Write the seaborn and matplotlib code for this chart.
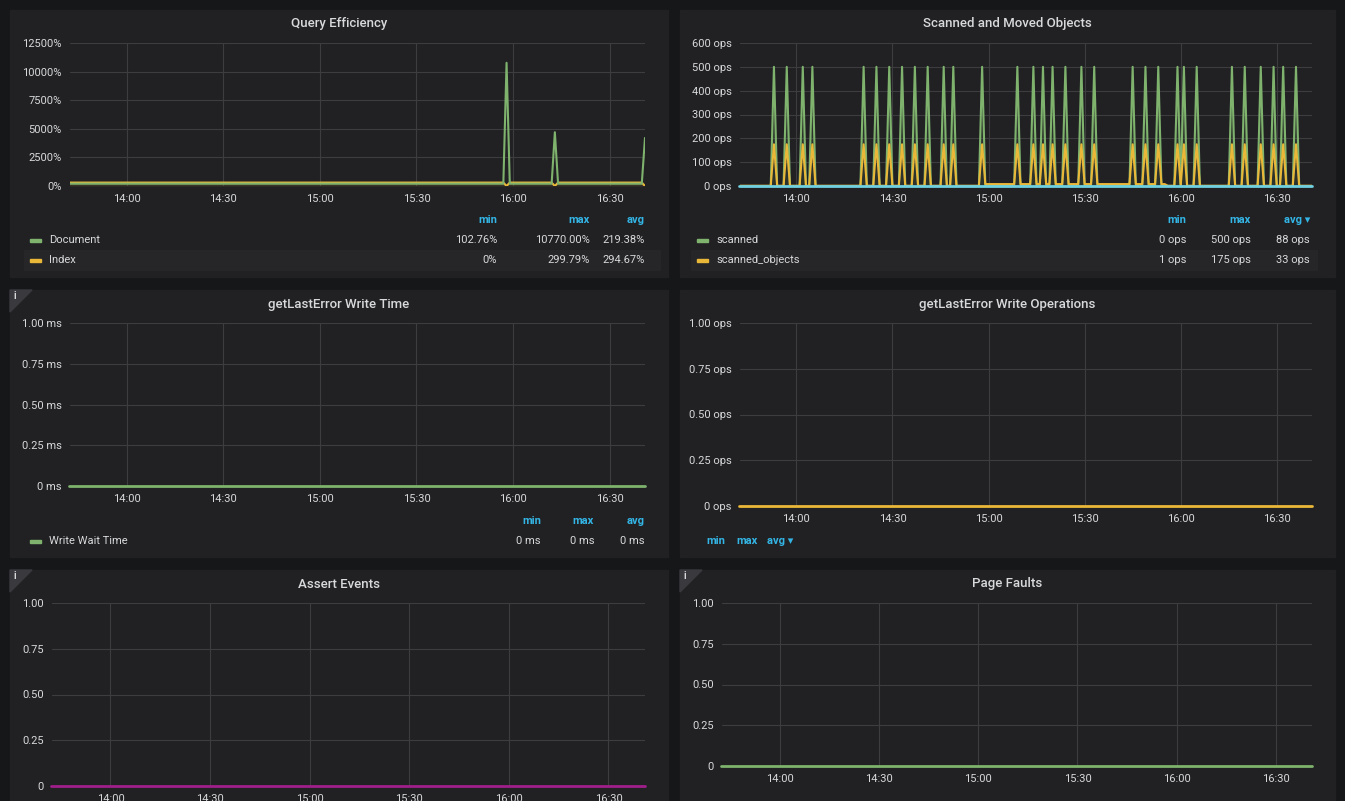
import numpy as np
import pandas as pd
import seaborn as sns
import matplotlib.pyplot as plt
from matplotlib.patches import Rectangle, Polygon

# time axis in minutes relative to 14:00
minutes = np.arange(-18, 162)
tick_pos = [0, 30, 60, 90, 120, 150]
tick_labels = ["14:00", "14:30", "15:00", "15:30", "16:00", "16:30"]

# Query Efficiency
doc_base = 200.0
index_base = 299.0
doc_spike_min = [118, 133, 161]
doc_spike_val = [10770, 4700, 4200]

# Scanned and Moved Objects
scan_spike_min = [-7, -3, 2, 5, 21, 25, 29, 33, 37, 41, 46, 49, 58, 69, 74, 77, 80, 84,
                  89, 93, 105, 109, 113, 119, 121, 125, 136, 140, 145, 149, 152, 156]
scanned_peak = 500
objects_peak = 175
objects_mid_start, objects_mid_end, objects_mid_val = 58, 115, 8

BG = "#161719"
PANEL = "#212124"
TXT = "#d8d9da"
GRID = "#3d3d40"
GREEN = "#7eb26d"
YELLOW = "#eab839"
CYAN = "#6ed0e0"
PURPLE = "#a01e8c"
BLUE = "#33b5e5"

sns.set_style("dark")
plt.rcParams['font.family'] = ['Roboto', 'DejaVu Sans']

W, H = 1345, 801
fig = plt.figure(figsize=(W / 100, H / 100), dpi=100, facecolor=BG)


def fx(x):
    return x / W


def fy(y):
    return 1 - y / H


def panel(x0, y0, x1, y1, title, info=False):
    fig.patches.append(Rectangle((fx(x0), fy(y1)), fx(x1 - x0), (y1 - y0) / H,
                                 transform=fig.transFigure, color=PANEL, zorder=-10))
    fig.text(fx((x0 + x1) / 2), fy(y0 + 14), title, color=TXT, fontsize=9.5,
             ha="center", va="center", fontweight="medium")
    if info:
        fig.patches.append(Polygon([(fx(x0), fy(y0)), (fx(x0 + 22), fy(y0)), (fx(x0), fy(y0 + 22))],
                                   closed=True, transform=fig.transFigure, color="#3a3a3e", zorder=-5))
        fig.text(fx(x0 + 5), fy(y0 + 6), "i", color=TXT, fontsize=7, fontweight="bold",
                 ha="center", va="center")


def make_axes(x0, y0, x1, y1, ymax, yticks, ylabels):
    ax = fig.add_axes([fx(x0), fy(y1), fx(x1 - x0), (y1 - y0) / H])
    ax.set_facecolor("none")
    ax.set_xlim(minutes[0] + 0.4, minutes[-1])
    ax.set_ylim(0, ymax)
    ax.set_yticks(yticks)
    ax.set_yticklabels(ylabels)
    ax.set_xticks(tick_pos)
    ax.set_xticklabels(tick_labels)
    ax.grid(True, color=GRID, linewidth=0.8)
    ax.tick_params(colors=TXT, labelsize=8, length=0, pad=6)
    for s in ax.spines.values():
        s.set_visible(False)
    return ax


def finish(ax):
    ax.set_xlabel("")
    ax.set_ylabel("")
    ax.set_xlim(minutes[0] + 0.4, minutes[-1])


def legend_table(x_name, x_cols, y_head, rows, row_w, heads=("min", "max", "avg")):
    for xc, h in zip(x_cols, heads):
        fig.text(fx(xc), fy(y_head), h, color=BLUE, fontsize=8, fontweight="bold",
                 ha="right", va="center")
    for i, (name, color, vals) in enumerate(rows):
        yy = y_head + 20 + i * 20
        if i % 2 == 1:
            fig.patches.append(Rectangle((fx(x_name - 6), fy(yy + 10)), fx(row_w), 20 / H,
                                         transform=fig.transFigure, color="#262629", zorder=-5))
        fig.patches.append(Rectangle((fx(x_name), fy(yy + 1.5)), fx(11), 3 / H,
                                     transform=fig.transFigure, color=color, zorder=2))
        fig.text(fx(x_name + 19), fy(yy), name, color=TXT, fontsize=8, va="center")
        for xc, v in zip(x_cols, vals):
            fig.text(fx(xc), fy(yy), v, color=TXT, fontsize=8, ha="right", va="center")


# ---------- Query Efficiency ----------
panel(10, 10, 668, 277, "Query Efficiency")
doc = np.full(len(minutes), doc_base)
idx = np.full(len(minutes), index_base)
for m, v in zip(doc_spike_min, doc_spike_val):
    doc[minutes == m] = v
    idx[minutes == m] = 0
df1 = pd.DataFrame({"t": minutes, "Document": doc, "Index": idx})
ax = make_axes(70, 43, 645, 186, 12500, [0, 2500, 5000, 7500, 10000, 12500],
               ["0%", "2500%", "5000%", "7500%", "10000%", "12500%"])
ax.fill_between(minutes, idx, color=YELLOW, alpha=0.12, lw=0)
sns.lineplot(data=df1, x="t", y="Index", color=YELLOW, ax=ax, lw=1.5)
sns.lineplot(data=df1, x="t", y="Document", color=GREEN, ax=ax, lw=1.5)
finish(ax)
legend_table(30, [497, 590, 645], 220,
             [("Document", GREEN, ["102.76%", "10770.00%", "219.38%"]),
              ("Index", YELLOW, ["0%", "299.79%", "294.67%"])], 636)

# ---------- Scanned and Moved Objects ----------
panel(680, 10, 1335, 277, "Scanned and Moved Objects")
scanned = np.zeros(len(minutes))
objects = np.ones(len(minutes))
mid = (minutes >= objects_mid_start) & (minutes <= objects_mid_end)
objects[mid] = objects_mid_val
for m in scan_spike_min:
    scanned[minutes == m] = scanned_peak
    objects[minutes == m] = objects_peak
df2 = pd.DataFrame({"t": minutes, "scanned": scanned, "scanned_objects": objects,
                    "moved": np.zeros(len(minutes))})
ax = make_axes(740, 43, 1312, 186, 600, [0, 100, 200, 300, 400, 500, 600],
               ["0 ops", "100 ops", "200 ops", "300 ops", "400 ops", "500 ops", "600 ops"])
ax.fill_between(minutes, scanned, color=GREEN, alpha=0.12, lw=0)
sns.lineplot(data=df2, x="t", y="scanned", color=GREEN, ax=ax, lw=1.5)
sns.lineplot(data=df2, x="t", y="scanned_objects", color=YELLOW, ax=ax, lw=1.5)
sns.lineplot(data=df2, x="t", y="moved", color=CYAN, ax=ax, lw=2, clip_on=False)
finish(ax)
legend_table(697, [1186, 1251, 1310], 220,
             [("scanned", GREEN, ["0 ops", "500 ops", "88 ops"]),
              ("scanned_objects", YELLOW, ["1 ops", "175 ops", "33 ops"])], 626,
             heads=("min", "max", "avg \u25be"))

# ---------- getLastError Write Time ----------
panel(10, 290, 668, 557, "getLastError Write Time", info=True)
zero = np.zeros(len(minutes))
df3 = pd.DataFrame({"t": minutes, "v": zero})
ax = make_axes(70, 323, 645, 486, 1.0, [0, 0.25, 0.5, 0.75, 1.0],
               ["0 ms", "0.25 ms", "0.50 ms", "0.75 ms", "1.00 ms"])
sns.lineplot(data=df3, x="t", y="v", color=GREEN, ax=ax, lw=2, clip_on=False)
finish(ax)
legend_table(30, [541, 594, 645], 521, [("Write Wait Time", GREEN, ["0 ms", "0 ms", "0 ms"])], 636)

# ---------- getLastError Write Operations ----------
panel(680, 290, 1335, 557, "getLastError Write Operations")
ax = make_axes(740, 323, 1312, 506, 1.0, [0, 0.25, 0.5, 0.75, 1.0],
               ["0 ops", "0.25 ops", "0.50 ops", "0.75 ops", "1.00 ops"])
sns.lineplot(data=df3, x="t", y="v", color=YELLOW, ax=ax, lw=2, clip_on=False)
finish(ax)
for xc, h in zip([706, 736, 767], ["min", "max", "avg \u25be"]):
    fig.text(fx(xc), fy(541), h, color=BLUE, fontsize=8, fontweight="bold", va="center")

# ---------- Assert Events ----------
panel(10, 570, 668, 801, "Assert Events", info=True)
ax = make_axes(52, 603, 645, 786, 1.0, [0, 0.25, 0.5, 0.75, 1.0],
               ["0", "0.25", "0.50", "0.75", "1.00"])
sns.lineplot(data=df3, x="t", y="v", color=PURPLE, ax=ax, lw=2, clip_on=False)
finish(ax)

# ---------- Page Faults ----------
panel(680, 570, 1335, 801, "Page Faults", info=True)
ax = make_axes(722, 603, 1312, 766, 1.0, [0, 0.25, 0.5, 0.75, 1.0],
               ["0", "0.25", "0.50", "0.75", "1.00"])
sns.lineplot(data=df3, x="t", y="v", color=GREEN, ax=ax, lw=2, clip_on=False)
finish(ax)

fig.savefig("out.png", dpi=100, facecolor=BG)
